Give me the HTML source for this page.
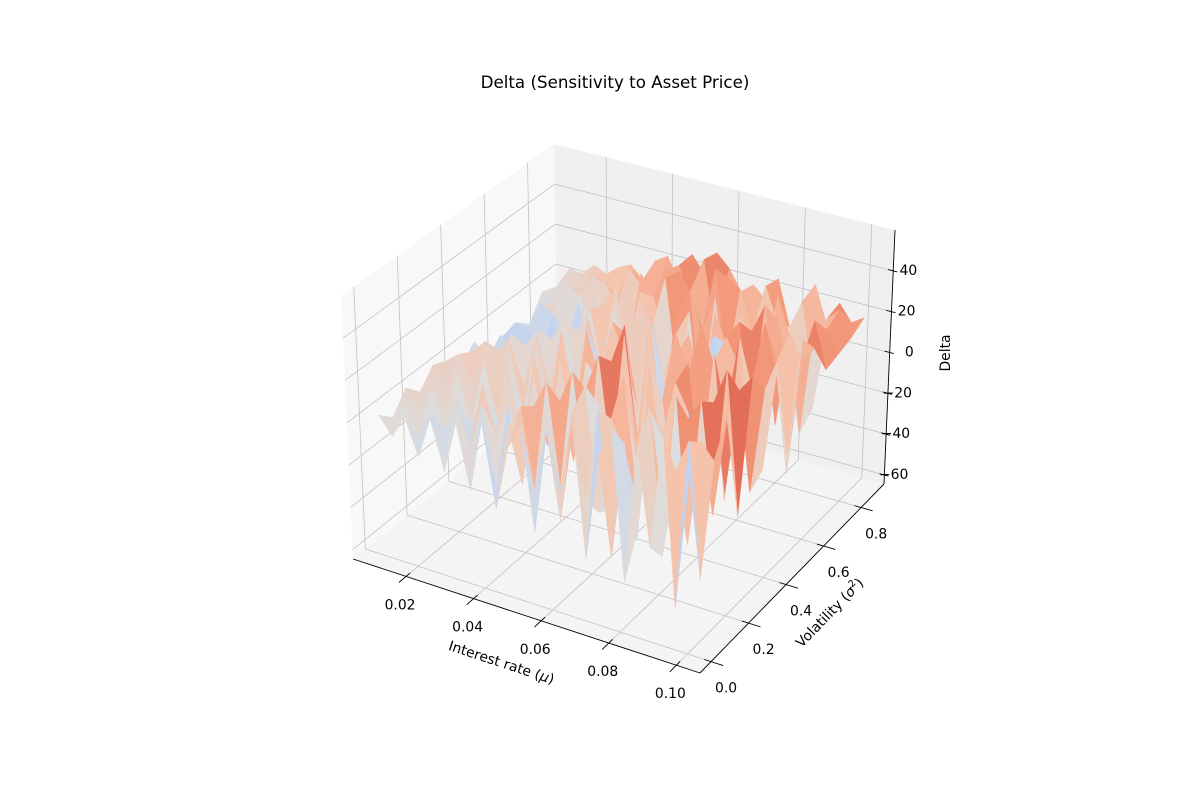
<!DOCTYPE html>
<html><head><meta charset="utf-8"><style>
html,body{margin:0;padding:0;background:#fff;}
svg text{font-family:"DejaVu Sans","Liberation Sans",sans-serif;fill:#000;}
</style></head>
<body>
<svg id="chart" width="1200" height="800" viewBox="0 0 1200 800" xmlns="http://www.w3.org/2000/svg">
<rect width="1200" height="800" fill="#fff"/>
<text x="615" y="88" font-size="16.7" text-anchor="middle">Delta (Sensitivity to Asset Price)</text>
<g id="panes"></g>
<g id="grid"></g>
<g id="surface"></g>
<g id="axes"></g>
<text x="0" y="0" font-size="13.9" text-anchor="middle" transform="translate(500,667) rotate(18.2)">Interest rate (<tspan font-style="italic">μ</tspan>)</text>
<text x="0" y="0" font-size="13.9" text-anchor="middle" transform="translate(833,616) rotate(-45.8)">Volatility (<tspan font-style="italic">σ</tspan><tspan font-size="9.5" dy="-6">2</tspan><tspan dy="6">)</tspan></text>
<text x="0" y="0" font-size="13.9" text-anchor="middle" transform="translate(950,353) rotate(-90)">Delta</text>
</svg>
<script>
// ---- data ----
const xVals = [0.01,0.01375,0.0175,0.02125,0.025,0.02875,0.0325,0.03625,0.04,0.04375,0.0475,0.05125,0.055,0.05875,0.0625,0.06625,0.07,0.07375,0.0775,0.08125,0.085,0.08875,0.0925,0.09625,0.1];
const yVals = [0,0.0643,0.1286,0.1929,0.2571,0.3214,0.3857,0.45,0.5143,0.5786,0.6429,0.7071,0.7714,0.8357,0.9];
const delta = [
[2,-6,5,-12,8,-15,10,-20,14,-25,6,18,-30,22,-10,28,-35,15,30,-40,25,-20,35,-45,20],
[-4,7,-9,4,-14,11,-8,16,-22,9,20,-18,12,-28,25,-15,30,-38,18,-22,38,-30,12,28,-35],
[5,-3,8,-10,6,-16,18,-5,12,-24,15,28,-20,10,32,-26,20,8,-34,30,-12,40,-28,22,15],
[-2,9,-7,12,-11,5,-13,20,-16,22,-9,14,30,-24,18,-30,35,-22,26,12,-38,24,34,-18,30],
[6,-5,10,-8,15,-12,9,-18,24,-6,26,-20,16,34,-15,24,-28,38,-10,32,20,-26,28,45,-22],
[3,8,-6,14,-4,17,-10,12,-14,28,-18,22,-12,26,40,-20,30,14,-30,36,-16,44,-20,30,38],
[-5,4,11,-9,13,-6,20,-15,26,-12,30,8,-25,38,-18,32,-24,42,22,-28,35,10,48,-24,26],
[2,-13,1,11,-17,14,-9,19,-15,27,-19,31,15,-21,39,-27,23,-17,41,25,-39,33,19,-19,35],
[-11,2,-13,0,10,-17,14,-20,22,-2,-28,20,-16,32,4,-34,28,10,-28,32,20,-26,44,22,-18],
[-6,-12,2,-16,0,11,-18,16,-16,24,6,-24,28,-14,20,32,-26,24,-36,34,-18,36,20,-32,34],
[-4,-7,-16,3,-19,0,13,-15,20,-20,24,12,-22,22,36,-24,28,14,-26,24,38,-18,28,16,24],
[-10,2,-2,-12,7,-14,9,19,-13,21,3,31,-15,27,9,28,-22,22,16,-24,26,4,-26,30,8],
[1,-3,8,4,-7,15,3,-11,23,13,-7,29,21,3,35,-15,28,8,-18,30,12,-2,-20,20,10],
[-2,4,-1,9,5,1,17,9,-1,21,25,5,31,-7,25,20,-8,26,10,-12,22,-16,18,24,12],
[2,1,7,4,9,12,6,17,21,9,25,17,29,23,13,18,12,24,2,16,26,8,20,12,16]
];
const xTicks = [0.02,0.04,0.06,0.08,0.10];
const xTickLabels = ["0.02","0.04","0.06","0.08","0.10"];
const yTicks = [0,0.2,0.4,0.6,0.8];
const yTickLabels = ["0.0","0.2","0.4","0.6","0.8"];
const zTicks = [-60,-40,-20,0,20,40];
const zTickLabels = ["\u221260","\u221240","\u221220","0","20","40"];

// ---- axes ----
const XR=[0.0043,0.107], YR=[-0.059,0.922], ZR=[-64.4,60];
const C={
 b00:[353,559], b10:[700,673], b01:[558,393], b11:[884,484],
 t00:[341,296], t10:[703,407], t01:[554,144], t11:[895,230]};
function lerp(a,b,t){return [a[0]+(b[0]-a[0])*t,a[1]+(b[1]-a[1])*t];}
function proj(u,v,w){
  const b=lerp(lerp(C.b00,C.b10,u),lerp(C.b01,C.b11,u),v);
  const t=lerp(lerp(C.t00,C.t10,u),lerp(C.t01,C.t11,u),v);
  return lerp(b,t,w);
}
const fu=x=>(x-XR[0])/(XR[1]-XR[0]), fv=y=>(y-YR[0])/(YR[1]-YR[0]), fw=z=>(z-ZR[0])/(ZR[1]-ZR[0]);
function P(x,y,z){return proj(fu(x),fv(y),fw(z));}
const NS="http://www.w3.org/2000/svg";
function mk(tag,attrs,parent){const e=document.createElementNS(NS,tag);for(const k in attrs)e.setAttribute(k,attrs[k]);parent.appendChild(e);return e;}
function pts(a){return a.map(p=>p[0].toFixed(2)+","+p[1].toFixed(2)).join(" ");}

const panes=document.getElementById('panes');
let pn;
pn=mk('polygon',{points:pts([proj(0,0,0),proj(0,1,0),proj(0,1,1),proj(0,0,1)]),fill:'#f8f8f8'},panes);


pn=mk('polygon',{points:pts([proj(0,1,0),proj(1,1,0),proj(1,1,1),proj(0,1,1)]),fill:'#f0f0f0'},panes);


pn=mk('polygon',{points:pts([proj(0,0,0),proj(1,0,0),proj(1,1,0),proj(0,1,0)]),fill:'#f4f4f4'},panes);



const grid=document.getElementById('grid');
function gl(a,b,name){const l=mk('line',{x1:a[0],y1:a[1],x2:b[0],y2:b[1],stroke:'#c2c2c2','stroke-width':0.8},grid);

}
xTicks.forEach(x=>{const u=fu(x);gl(proj(u,0,0),proj(u,1,0),'x-gridline');gl(proj(u,1,0),proj(u,1,1),'x-gridline');});
yTicks.forEach(y=>{const v=fv(y);gl(proj(0,v,0),proj(1,v,0),'y-gridline');gl(proj(0,v,0),proj(0,v,1),'y-gridline');});
zTicks.forEach(z=>{const w=fw(z);gl(proj(0,1,w),proj(1,1,w),'z-gridline');gl(proj(0,0,w),proj(0,1,w),'z-gridline');});

const cmStops=[[0,[59,76,192]],[0.125,[98,130,234]],[0.25,[141,176,254]],[0.375,[184,208,249]],[0.5,[221,221,221]],[0.625,[245,196,173]],[0.75,[244,154,123]],[0.875,[222,96,77]],[1,[180,4,38]]];
function cmap(t){t=Math.max(0,Math.min(1,t));for(let i=1;i<cmStops.length;i++){if(t<=cmStops[i][0]){const a=cmStops[i-1],b=cmStops[i];const f=(t-a[0])/(b[0]-a[0]);const c=a[1].map((v,k)=>Math.round(v+(b[1][k]-v)*f));return 'rgb('+c.join(',')+')';}}return 'rgb(180,4,38)';}
const colorCenter=0.52, colorSpan=70;

const surf=document.getElementById('surface');
const quads=[];
for(let j=0;j<yVals.length-1;j++)for(let i=0;i<xVals.length-1;i++){
  const zs=[delta[j][i],delta[j][i+1],delta[j+1][i+1],delta[j+1][i]];
  const cu=(fu(xVals[i])+fu(xVals[i+1]))/2, cv=(fv(yVals[j])+fv(yVals[j+1]))/2;
  quads.push({i,j,zs,avg:(zs[0]+zs[1]+zs[2]+zs[3])/4,key:0.5*cu-0.866*cv});
}
quads.sort((a,b)=>a.key-b.key);
quads.forEach(q=>{
  const {i,j,zs}=q;
  const p=[P(xVals[i],yVals[j],zs[0]),P(xVals[i+1],yVals[j],zs[1]),P(xVals[i+1],yVals[j+1],zs[2]),P(xVals[i],yVals[j+1],zs[3])];
  const col=cmap(colorCenter+q.avg/colorSpan);
  const el=mk('polygon',{points:pts(p),fill:col,stroke:col,'stroke-width':0.6,'stroke-linejoin':'round'},surf);
  
  
});

const ax=document.getElementById('axes');
function al(a,b,name,w){const l=mk('line',{x1:a[0],y1:a[1],x2:b[0],y2:b[1],stroke:'#000','stroke-width':w||0.9},ax);

}
al(proj(0,0,0),proj(1,0,0),'x-axis-line');
al(proj(1,0,0),proj(1,1,0),'y-axis-line');
al(proj(1,1,0),proj(1,1,1),'z-axis-line');
function tl(x,y,txt,anchor,name){const t=mk('text',{x:x,y:y,'font-size':13.9,'text-anchor':anchor,'dominant-baseline':'central'},ax);t.textContent=txt;

}
xTicks.forEach((x,k)=>{const u=fu(x);const a=proj(u,0.02,0),b=proj(u,-0.035,0);al(a,b,'x-tick');const c=proj(u,0,0);tl(c[0]-6,c[1]+29,xTickLabels[k],'middle','x-tick-label');});
yTicks.forEach((y,k)=>{const v=fv(y);const a=proj(0.98,v,0),b=proj(1.035,v,0);al(a,b,'y-tick');const c=proj(1,v,0);tl(c[0]+15,c[1]+27,yTickLabels[k],'middle','y-tick-label');});
zTicks.forEach((z,k)=>{const w=fw(z);const a=proj(0.985,1,w),b=proj(1.012,1,w);al(a,b,'z-tick');const c=proj(1,1,w);tl(c[0]+24,c[1],zTickLabels[k],'end','z-tick-label');});
</script>
</body></html>
